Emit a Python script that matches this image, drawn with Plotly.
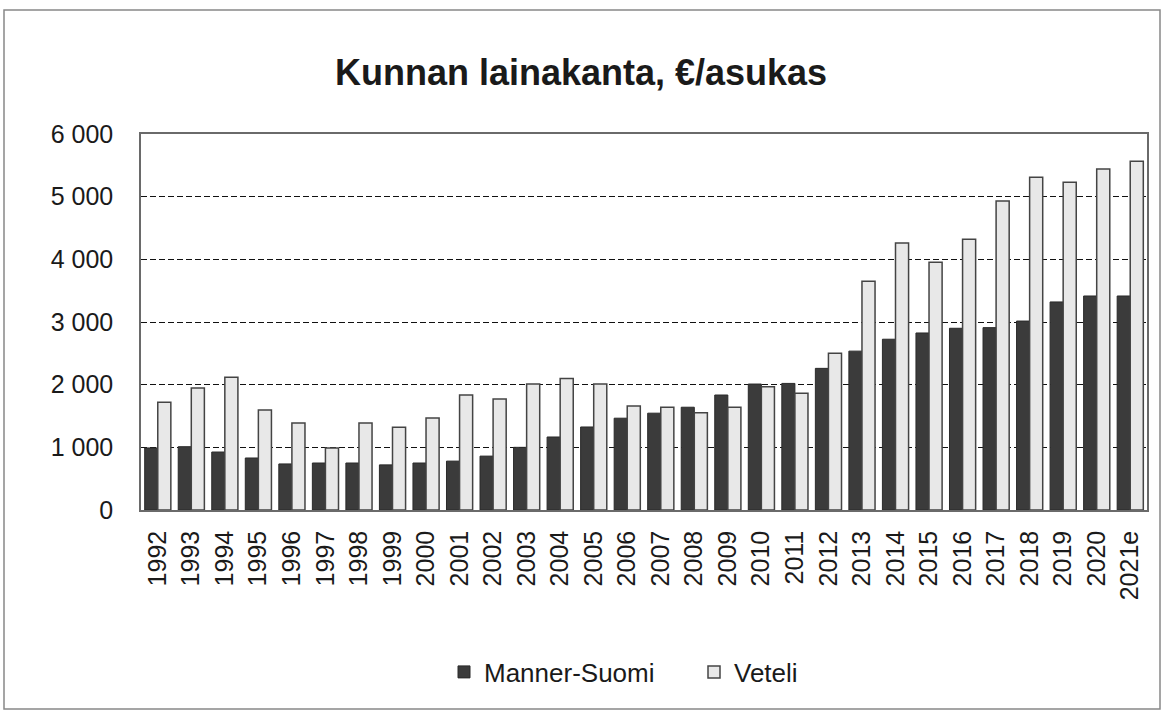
import plotly.graph_objects as go

years = ["1992", "1993", "1994", "1995", "1996", "1997", "1998", "1999", "2000", "2001",
         "2002", "2003", "2004", "2005", "2006", "2007", "2008", "2009", "2010", "2011",
         "2012", "2013", "2014", "2015", "2016", "2017", "2018", "2019", "2020", "2021e"]
manner_suomi = [990, 1010, 925, 830, 735, 750, 750, 720, 750, 780,
                860, 1000, 1165, 1325, 1465, 1545, 1640, 1835, 2010, 2020,
                2260, 2535, 2725, 2825, 2900, 2910, 3015, 3320, 3415, 3415]
veteli = [1720, 1945, 2120, 1595, 1390, 990, 1390, 1320, 1470, 1835,
          1770, 2010, 2100, 2010, 1660, 1640, 1550, 1640, 1965, 1865,
          2500, 3650, 4260, 3955, 4320, 4930, 5310, 5230, 5440, 5565]
y_ticks = [0, 1000, 2000, 3000, 4000, 5000, 6000]
y_tick_labels = ["0", "1 000", "2 000", "3 000", "4 000", "5 000", "6 000"]

fig = go.Figure()
fig.add_trace(go.Bar(x=years, y=manner_suomi, name="Manner-Suomi",
                     marker=dict(color="#3b3b3b", line=dict(color="#2a2a2a", width=1))))
fig.add_trace(go.Bar(x=years, y=veteli, name="Veteli",
                     marker=dict(color="#e8e8e8", line=dict(color="#444444", width=1.5))))

W, H = 1163, 713
L, R, T, B = 141, 16, 134, 203
pw, ph = W - L - R, H - T - B

def px(x):
    return (x - L) / pw

def py(y):
    return (H - B - y) / ph

fig.update_layout(
    width=W, height=H,
    margin=dict(l=L, r=R, t=T, b=B),
    paper_bgcolor="white", plot_bgcolor="white",
    barmode="group", bargap=0.22, bargroupgap=0,
    font=dict(family="Liberation Sans, Arial, sans-serif", color="#1a1a1a"),
    title=dict(text="<b>Kunnan lainakanta, €/asukas</b>", x=px(581), xanchor="center",
               xref="paper", y=1 - 72 / H, yanchor="middle",
               font=dict(size=36, color="#1a1a1a")),
    showlegend=True,
    legend=dict(orientation="h", x=px(694), xanchor="center", y=py(672), yanchor="middle",
                font=dict(size=26), itemwidth=30, traceorder="normal",
                entrywidth=205, entrywidthmode="pixels"),
    shapes=[dict(type="rect", xref="paper", yref="paper",
                 x0=px(4), x1=px(1160), y0=py(709), y1=py(10),
                 line=dict(color="#888888", width=1.5), fillcolor="rgba(0,0,0,0)", layer="below")],
)
fig.update_yaxes(range=[0, 6000], tickvals=y_ticks, ticktext=y_tick_labels,
                 showgrid=True, gridcolor="#111111", griddash="6px,3px", gridwidth=1.3,
                 tickfont=dict(size=25), ticklabelstandoff=21, ticks="",
                 showline=True, linecolor="#6a6a6a", linewidth=1.5, mirror=True, zeroline=False)
fig.update_xaxes(tickangle=-90, tickfont=dict(size=25), ticks="", ticklabelstandoff=9,
                 showline=True, linecolor="#6a6a6a", linewidth=1.5, mirror=True)

fig.write_html("out.html", config={"displayModeBar": False},
               post_script="document.body.style.margin='0px';")
